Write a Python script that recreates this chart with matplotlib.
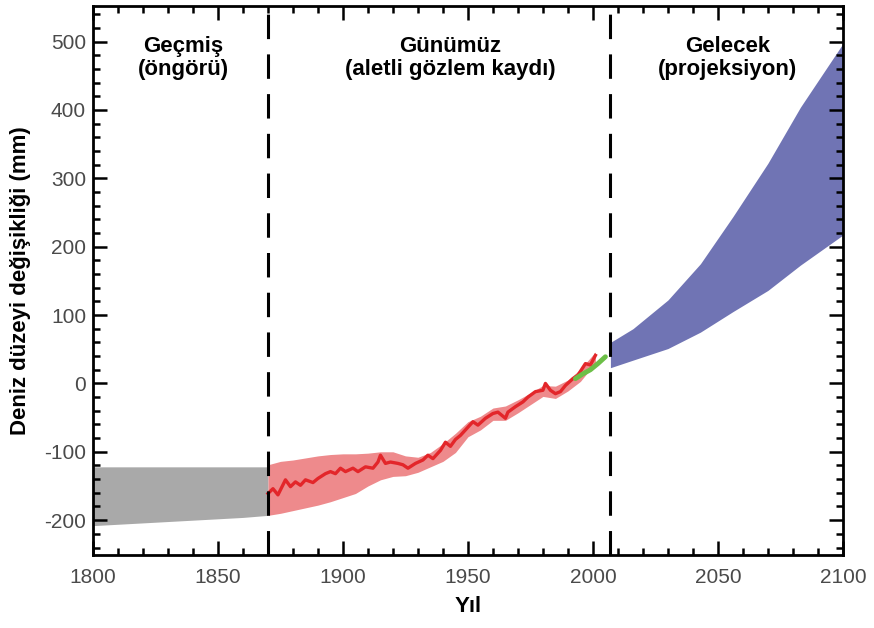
import matplotlib
matplotlib.use('Agg')
import matplotlib.pyplot as plt
from matplotlib.ticker import MultipleLocator

plt.rcParams['font.family'] = ['Liberation Sans', 'DejaVu Sans']
plt.rcParams['axes.unicode_minus'] = False

# past (reconstruction) band
past_years = [1800, 1820, 1840, 1860, 1870]
past_upper = [-122, -122, -122, -122, -122]
past_lower = [-208, -204, -200, -196, -193]

# instrumental record: uncertainty band
obs_band_years = [1870, 1875, 1880, 1885, 1890, 1895, 1900, 1905, 1910, 1915, 1920,
                  1925, 1930, 1935, 1940, 1945, 1950, 1955, 1960, 1965, 1970, 1975,
                  1980, 1985, 1990, 1995, 2001]
obs_upper = [-119, -114, -112, -109, -106, -104, -103, -103, -102, -100, -100,
             -106, -108, -101, -88, -73, -56, -48, -36, -33, -24, -14,
             -3, -4, 5, 21, 46]
obs_lower = [-193, -190, -186, -182, -178, -173, -167, -161, -150, -141, -136,
             -135, -130, -122, -114, -101, -78, -68, -54, -54, -43, -31,
             -19, -22, -11, 3, 30]

# instrumental record: tide gauge line
obs_years = [1870, 1872, 1874, 1877, 1879, 1881, 1883, 1885, 1888, 1890, 1893, 1895,
             1897, 1899, 1901, 1904, 1906, 1909, 1912, 1914, 1915, 1917, 1919, 1922,
             1924, 1926, 1929, 1932, 1934, 1936, 1939, 1941, 1943, 1945, 1947, 1949,
             1952, 1954, 1957, 1960, 1962, 1965, 1966, 1969, 1972, 1974, 1977, 1980,
             1981, 1983, 1985, 1987, 1989, 1992, 1994, 1997, 1999, 2001]
obs_sea = [-161, -154, -163, -141, -151, -144, -149, -141, -145, -139, -132, -129,
           -132, -124, -129, -124, -129, -122, -124, -115, -105, -117, -115, -117,
           -119, -124, -117, -112, -105, -110, -98, -86, -92, -82, -76, -68,
           -56, -61, -51, -44, -42, -51, -42, -34, -27, -20, -12, -10,
           0, -10, -15, -12, -3, 7, 12, 29, 27, 41]

# satellite altimetry
sat_years = [1993, 1996, 1999, 2002, 2005]
sat_sea = [7, 14, 20, 29, 39]

# projection band
proj_years = [2007, 2016, 2030, 2043, 2056, 2070, 2083, 2100]
proj_upper = [60, 80, 122, 175, 244, 322, 404, 497]
proj_lower = [23, 34, 51, 75, 105, 136, 173, 217]

dividers = [1870, 2007]
period_labels = ['Geçmiş\n(öngörü)', 'Günümüz\n(aletli gözlem kaydı)', 'Gelecek\n(projeksiyon)']
period_x = [1836, 1943, 2054]

fig = plt.figure(figsize=(8.74, 6.28), dpi=100)
ax = fig.add_axes([0.1064, 0.1162, 0.858, 0.8742])

ax.fill_between(past_years, past_lower, past_upper, color='#a9a9a9', lw=0)
ax.fill_between(obs_band_years, obs_lower, obs_upper, color='#ee8a8c', lw=0)
ax.plot(obs_years, obs_sea, color='#e3262a', lw=2.4)
ax.plot(sat_years, sat_sea, color='#6cbf47', lw=3.5, solid_capstyle='round')
ax.fill_between(proj_years, proj_lower, proj_upper, color='#7074b4', lw=0)

for d in dividers:
    ax.axvline(d, color='black', lw=2.2, linestyle=(0, (8, 5)))

for lab, xp in zip(period_labels, period_x):
    ax.text(xp, 476, lab, ha='center', va='center', fontsize=16,
            fontweight='bold', linespacing=1.1)

ax.set_xlim(1800, 2100)
ax.set_ylim(-251, 552)
ax.xaxis.set_major_locator(MultipleLocator(50))
ax.xaxis.set_minor_locator(MultipleLocator(10))
ax.yaxis.set_major_locator(MultipleLocator(100))
ax.yaxis.set_minor_locator(MultipleLocator(20))
ax.tick_params(which='both', direction='in', top=True, right=True, width=1.8,
               labelsize=15, labelcolor='#4a4a4a')
ax.tick_params(which='major', length=10)
ax.tick_params(which='minor', length=5)
ax.tick_params(axis='x', pad=9)
ax.tick_params(axis='y', pad=5)
for s in ax.spines.values():
    s.set_linewidth(2)

ax.set_xlabel('Yıl', fontsize=16, fontweight='bold')
ax.set_ylabel('Deniz düzeyi değişikliği (mm)', fontsize=16, fontweight='bold')
ax.xaxis.set_label_coords(0.5, -0.075)
ax.yaxis.set_label_coords(-0.083, 0.5)

fig.savefig('out.png', dpi=100)
